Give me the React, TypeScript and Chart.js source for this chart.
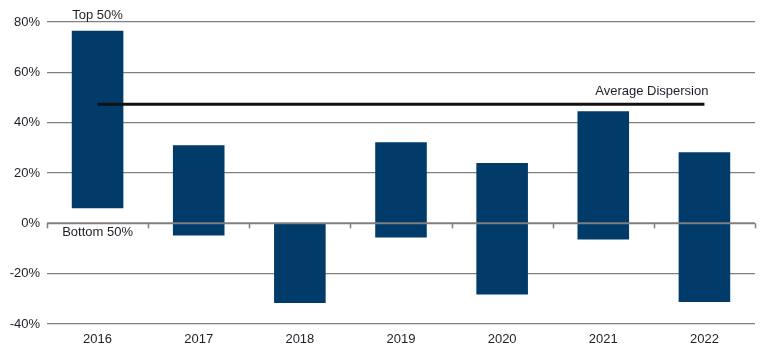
import React, { useEffect, useRef } from "react";
import { Chart, registerables } from "chart.js";

Chart.register(...registerables);

const years = ["2016", "2017", "2018", "2019", "2020", "2021", "2022"];
const top50 = [76.5, 31, 0, 32.2, 24, 44.5, 28.2];
const bottom50 = [6, -4.8, -31.7, -5.6, -28.3, -6.4, -31.3];
const averageDispersion = 47.3;
const yTicks = [-40, -20, 0, 20, 40, 60, 80];

const BAR = "#003b6a";
const GRID = "#7f7f7f";
const TEXT = "#1e1e28";
const FAMILY = "'Liberation Sans', Arial, sans-serif";
const FONT = `13px ${FAMILY}`;

const overlayPlugin = {
  id: "overlay",
  afterDatasetsDraw(chart: any) {
    const { ctx, scales, chartArea } = chart;
    const x = scales.x;
    const y = scales.y;
    const y0 = y.getPixelForValue(0);
    ctx.save();
    ctx.strokeStyle = GRID;
    ctx.lineWidth = 2;
    ctx.beginPath();
    ctx.moveTo(chartArea.left, y0);
    ctx.lineTo(chartArea.right, y0);
    ctx.stroke();
    ctx.lineWidth = 1.5;
    const step = (chartArea.right - chartArea.left) / years.length;
    for (let i = 0; i <= years.length; i++) {
      const xp = Math.round(chartArea.left + i * step) + 0.5;
      ctx.beginPath();
      ctx.moveTo(xp, y0);
      ctx.lineTo(xp, y0 + 5);
      ctx.stroke();
    }
    ctx.fillStyle = TEXT;
    ctx.font = FONT;
    ctx.textAlign = "center";
    ctx.textBaseline = "bottom";
    ctx.fillText("Top 50%", x.getPixelForValue(0), y.getPixelForValue(top50[0]) - 9);
    ctx.textBaseline = "top";
    ctx.fillText("Bottom 50%", x.getPixelForValue(0), y0 + 3);
    ctx.textAlign = "right";
    ctx.textBaseline = "bottom";
    ctx.fillText(
      "Average Dispersion",
      x.getPixelForValue(years.length - 1) + 4,
      y.getPixelForValue(averageDispersion) - 6
    );
    ctx.restore();
  },
};

export default function App() {
  const ref = useRef<HTMLCanvasElement>(null);
  useEffect(() => {
    const chart = new Chart(ref.current!, {
      type: "bar",
      data: {
        labels: years,
        datasets: [
          {
            type: "line",
            label: "Average Dispersion",
            data: years.map(() => averageDispersion),
            borderColor: "#111111",
            borderWidth: 3,
            pointRadius: 0,
            order: 0,
          } as any,
          {
            type: "bar",
            label: "Range",
            data: years.map((_, i) => [bottom50[i], top50[i]]),
            backgroundColor: BAR,
            borderWidth: 0,
            barPercentage: 1,
            categoryPercentage: 0.51,
            order: 1,
          } as any,
        ],
      },
      options: {
        animation: false,
        responsive: false,
        maintainAspectRatio: false,
        layout: { padding: { top: 22, right: 15, left: 0, bottom: 0 } },
        plugins: { legend: { display: false }, tooltip: { enabled: false } },
        scales: {
          x: {
            offset: true,
            grid: { display: false, drawTicks: false },
            border: { display: false },
            ticks: { color: TEXT, font: { family: FAMILY, size: 13 }, padding: 8 },
            afterFit: (s: any) => {
              s.height = 30;
            },
          },
          y: {
            min: -40,
            max: 80,
            afterBuildTicks: (s: any) => {
              s.ticks = yTicks.map((v) => ({ value: v }));
            },
            grid: { color: (c: any) => (c.tick && c.tick.value === 0 ? "rgba(0,0,0,0)" : GRID), lineWidth: 1.3, drawTicks: false },
            border: { display: false },
            ticks: {
              color: TEXT,
              font: { family: FAMILY, size: 13 },
              padding: 7,
              callback: (v: any) => `${v}%`,
            },
            afterFit: (s: any) => {
              s.width = 47;
            },
          },
        },
      },
      plugins: [overlayPlugin],
    });
    return () => chart.destroy();
  }, []);
  return (
    <div style={{ position: "fixed", left: 0, top: 0, width: 770, height: 354, background: "#fff" }}>
      <canvas ref={ref} width={770} height={354} />
    </div>
  );
}
